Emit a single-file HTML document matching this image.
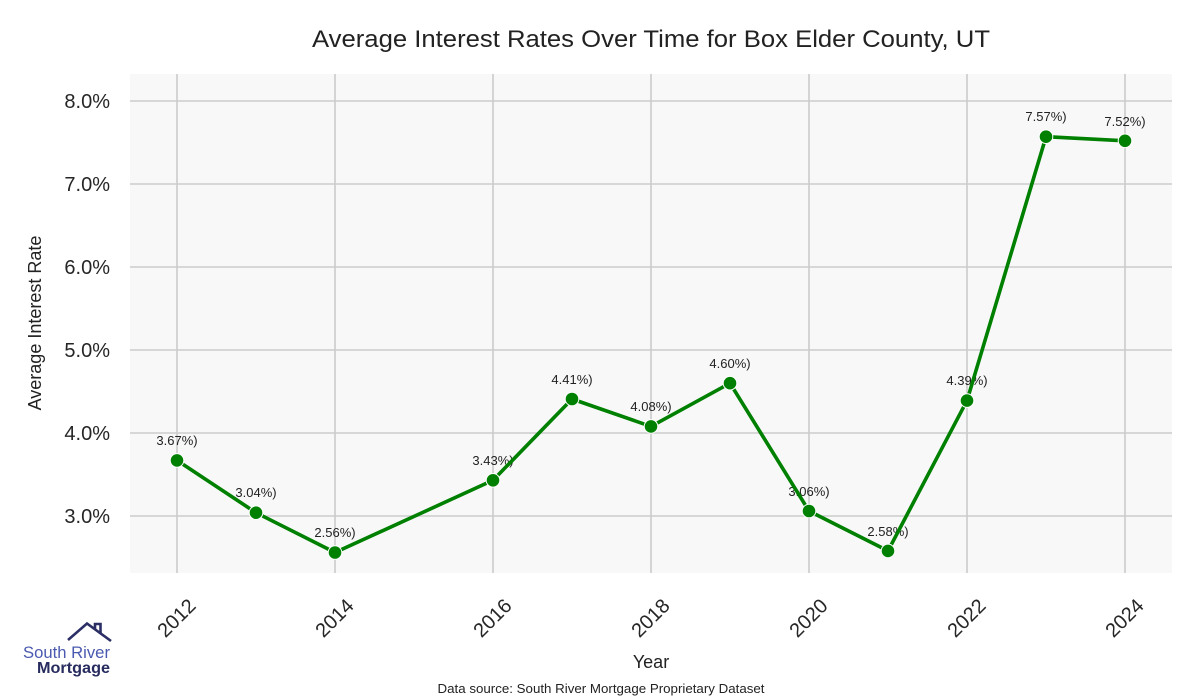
<!DOCTYPE html>
<html><head><meta charset="utf-8"><style>
html,body{margin:0;padding:0;background:#fff;}
svg{display:block;font-family:"Liberation Sans",sans-serif;}
</style></head><body>
<svg width="1200" height="700" viewBox="0 0 1200 700" xmlns="http://www.w3.org/2000/svg">
<rect x="0" y="0" width="1200" height="700" fill="#fff"/>
<rect x="130" y="74" width="1042" height="499" fill="#f8f8f8"/>
<g stroke="#cccccc" stroke-width="1.6">
<line x1="130" y1="101" x2="1172" y2="101"/>
<line x1="130" y1="184" x2="1172" y2="184"/>
<line x1="130" y1="267" x2="1172" y2="267"/>
<line x1="130" y1="350" x2="1172" y2="350"/>
<line x1="130" y1="433" x2="1172" y2="433"/>
<line x1="130" y1="516" x2="1172" y2="516"/>
<line x1="177" y1="74" x2="177" y2="573"/>
<line x1="335" y1="74" x2="335" y2="573"/>
<line x1="493" y1="74" x2="493" y2="573"/>
<line x1="651" y1="74" x2="651" y2="573"/>
<line x1="809" y1="74" x2="809" y2="573"/>
<line x1="967" y1="74" x2="967" y2="573"/>
<line x1="1125" y1="74" x2="1125" y2="573"/>
</g>
<text x="651" y="47" font-size="24" fill="#222" text-anchor="middle" textLength="678" lengthAdjust="spacingAndGlyphs">Average Interest Rates Over Time for Box Elder County, UT</text>
<g font-size="20" fill="#262626" text-anchor="end">
<text x="110" y="108">8.0%</text>
<text x="110" y="191">7.0%</text>
<text x="110" y="274">6.0%</text>
<text x="110" y="357">5.0%</text>
<text x="110" y="440">4.0%</text>
<text x="110" y="523">3.0%</text>
</g>
<text transform="translate(41,323) rotate(-90)" font-size="18" fill="#222" text-anchor="middle">Average Interest Rate</text>
<g font-size="20" fill="#262626" text-anchor="end">
<text transform="translate(197,607) rotate(-45)">2012</text>
<text transform="translate(355,607) rotate(-45)">2014</text>
<text transform="translate(513,607) rotate(-45)">2016</text>
<text transform="translate(671,607) rotate(-45)">2018</text>
<text transform="translate(829,607) rotate(-45)">2020</text>
<text transform="translate(987,607) rotate(-45)">2022</text>
<text transform="translate(1145,607) rotate(-45)">2024</text>
</g>
<text x="651" y="668" font-size="18" fill="#222" text-anchor="middle">Year</text>
<text x="601" y="693" font-size="12.5" fill="#222" text-anchor="middle" textLength="327" lengthAdjust="spacingAndGlyphs">Data source: South River Mortgage Proprietary Dataset</text>
<g font-size="13" fill="#222" text-anchor="middle">
<text x="177" y="445">3.67%)</text>
<text x="256" y="497">3.04%)</text>
<text x="335" y="537">2.56%)</text>
<text x="493" y="465">3.43%)</text>
<text x="572" y="384">4.41%)</text>
<text x="651" y="411">4.08%)</text>
<text x="730" y="368">4.60%)</text>
<text x="809" y="496">3.06%)</text>
<text x="888" y="536">2.58%)</text>
<text x="967" y="385">4.39%)</text>
<text x="1046" y="121">7.57%)</text>
<text x="1125" y="126">7.52%)</text>
</g>
<polyline fill="none" stroke="#008000" stroke-width="3.6" stroke-linejoin="round" points="177,460.4 256,512.7 335,552.5 493,480.3 572,399 651,426.4 730,383.2 809,511 888,550.9 967,400.6 1046,136.7 1125,140.8"/>
<g fill="#008000" stroke="#ffffff" stroke-width="1">
<circle cx="177" cy="460.4" r="6.8"/>
<circle cx="256" cy="512.7" r="6.8"/>
<circle cx="335" cy="552.5" r="6.8"/>
<circle cx="493" cy="480.3" r="6.8"/>
<circle cx="572" cy="399" r="6.8"/>
<circle cx="651" cy="426.4" r="6.8"/>
<circle cx="730" cy="383.2" r="6.8"/>
<circle cx="809" cy="511" r="6.8"/>
<circle cx="888" cy="550.9" r="6.8"/>
<circle cx="967" cy="400.6" r="6.8"/>
<circle cx="1046" cy="136.7" r="6.8"/>
<circle cx="1125" cy="140.8" r="6.8"/>
</g>
<g fill="none" stroke="#2b2f66" stroke-width="2.6" stroke-linejoin="miter">
<polyline points="68,640 87,623.5 111,641"/>
<polyline points="95,629 95,624 100.5,624 100.5,634"/>
</g>
<text x="23" y="658" font-size="16.5" fill="#4a5ab0" textLength="87" lengthAdjust="spacingAndGlyphs">South River</text>
<text x="37" y="673" font-size="16" font-weight="bold" fill="#272b5e" textLength="73" lengthAdjust="spacingAndGlyphs">Mortgage</text>
</svg>
</body></html>
